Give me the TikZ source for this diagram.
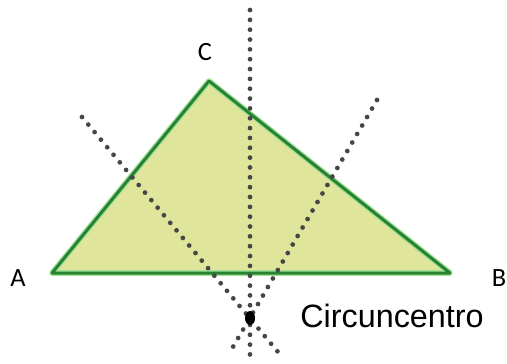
\documentclass[tikz,border=0pt]{standalone}
\usepackage{fontspec}
\usetikzlibrary{calc}
\newfontfamily\calfont{Carlito}
\newfontfamily\arialfont{Liberation Sans}
\definecolor{triedge}{RGB}{40,130,52}
\definecolor{trihalo}{RGB}{160,225,150}
\definecolor{trifill}{RGB}{223,229,155}
\definecolor{dotgray}{RGB}{70,70,70}

\begin{document}
\begin{tikzpicture}[
    bisector/.style={dotgray,line width=2.7pt,line cap=round,dash pattern=on 0pt off 5.6pt},
    vlabel/.style={font=\calfont\fontsize{15}{15}\selectfont,inner sep=0pt}]
  \useasboundingbox (0,0) rectangle (10.14,7.26);
  \coordinate (A) at (1.04,1.80);
  \coordinate (B) at (9.00,1.80);
  \coordinate (C) at (4.18,5.64);
  \coordinate (O) at (5.00,0.90);
  % triangle
  \fill[trifill] (A) -- (B) -- (C) -- cycle;
  \draw[trihalo,line width=3.2pt,line join=round] (A) -- (B) -- (C) -- cycle;
  \draw[triedge,line width=1.7pt,line join=round] (A) -- (B) -- (C) -- cycle;
  % perpendicular bisectors
  \coordinate (v1) at (5.00,7.06);
  \coordinate (v2) at (5.00,0.02);
  \coordinate (l1) at (1.64,4.92);
  \coordinate (l2) at (5.56,0.22);
  \coordinate (r1) at (7.54,5.26);
  \coordinate (r2) at (4.60,0.22);
  \draw[bisector] (v1) -- (v2);
  \draw[bisector] (l1) -- (l2);
  \draw[bisector] (r1) -- (r2);
  \fill[black] (O) ellipse (0.10 and 0.14);
  \node[vlabel] (labA) at (0.36,1.70) {A};
  \node[vlabel] (labB) at (9.98,1.70) {B};
  \node[vlabel] (labC) at (4.10,6.22) {C};
  \node[font=\arialfont\fontsize{18.4}{18.4}\selectfont,inner sep=0pt] (circ) at (7.84,0.94) {Circuncentro};
\end{tikzpicture}
\end{document}
